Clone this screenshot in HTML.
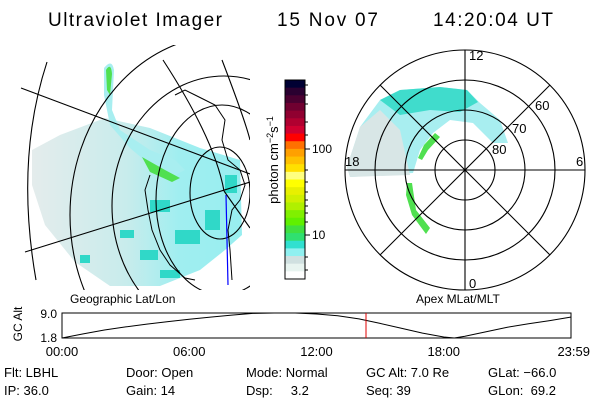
<!DOCTYPE html>
<html><head><meta charset="utf-8"><style>
html,body{margin:0;padding:0;background:#fff;}
svg{display:block;font-family:"Liberation Sans",sans-serif;}
</style></head><body>
<svg width="600" height="400" viewBox="0 0 600 400">
<g font-size="19" fill="#000">
<text x="48" y="26" textLength="174">Ultraviolet Imager</text>
<text x="277" y="26" textLength="101">15 Nov 07</text>
<text x="433" y="26" textLength="120">14:20:04 UT</text>
</g>
<defs>
<clipPath id="lc"><rect x="20" y="45" width="230" height="245"/></clipPath>
<linearGradient id="lg" x1="0" x2="1" y1="0" y2="0"><stop offset="0" stop-color="#e4ecec"/><stop offset="0.45" stop-color="#c8ecec"/><stop offset="0.7" stop-color="#a0eef0"/><stop offset="1" stop-color="#98eef0"/></linearGradient>
<clipPath id="pc"><circle cx="465" cy="170" r="120"/></clipPath>
</defs>
<g clip-path="url(#lc)">
<path d="M32,150 L60,135 L105,118 L150,128 L200,148 L240,160 L242,235 L225,250 L200,270 L160,286 L110,286 L75,262 L45,225 L32,185 Z" fill="url(#lg)"/>
<g fill="#30d8c8">
<rect x="150" y="200" width="20" height="12"/><rect x="175" y="230" width="25" height="14"/><rect x="140" y="250" width="18" height="10"/><rect x="205" y="210" width="15" height="20"/><rect x="120" y="230" width="14" height="8"/><rect x="160" y="270" width="20" height="8"/><rect x="225" y="175" width="12" height="18"/><rect x="80" y="255" width="10" height="8"/>
</g>
<path d="M104,68 Q112,58 114,70 L112,110 L120,130 L150,150 L175,160 L185,170 L175,175 L150,165 L130,148 L110,125 L104,95 Z" fill="#a8eef0"/>
<path d="M106,70 Q111,62 112,74 L110,95 L107,90 Z M142,157 L165,170 L180,178 L172,182 L150,172 Z" fill="#50e050"/>
<g fill="none" stroke="#000" stroke-width="1.1">
<line x1="21" y1="88" x2="250" y2="174"/>
<line x1="25" y1="252" x2="250" y2="182"/>
<line x1="224" y1="191" x2="250" y2="228"/>
<ellipse cx="220" cy="193" rx="30" ry="46"/>
<ellipse cx="222" cy="200" rx="66" ry="95"/>
<ellipse cx="224" cy="206" rx="112" ry="130"/>
<ellipse cx="226" cy="215" rx="156" ry="180"/>
<path d="M47,62 Q15,160 36,280"/>
<path d="M163,60 Q215,140 224,191"/>
<path d="M222,60 Q245,120 250,140"/>
</g>
<path d="M175,95 L185,90 L195,95 L205,100 L215,105 L225,120 L222,140 L228,160 L240,170 L245,185 L240,200 L232,210 L228,230 L230,250 L232,280 M150,175 L145,190 L148,210 L152,230 L160,250 L170,265 L185,278 L195,280" fill="none" stroke="#000" stroke-width="1"/>
<line x1="226" y1="195" x2="228" y2="285" stroke="#0000ff" stroke-width="1.2"/>
</g>
<g id="cb"></g>
<text transform="translate(278,160) rotate(-90)" text-anchor="middle" font-size="13">photon cm<tspan dy="-5" font-size="9">−2</tspan><tspan dy="5">s</tspan><tspan dy="-5" font-size="9">−1</tspan></text>
<text x="312" y="153" font-size="12">100</text>
<text x="312" y="239" font-size="12">10</text>
<g>
<g clip-path="url(#pc)">
<path d="M347,167 L360,127 L380,100 L400,90 L440,87 L467,90 L480,103 L500,120 L508,143 L493,143 L473,123 L450,120 L433,133 L420,150 L413,173 L350,177 Z" fill="#a8eef0"/>
<path d="M347,167 L360,127 L380,110 L400,130 L410,175 L350,177 Z" fill="#d8e6e6"/>
<path d="M380,100 L400,90 L440,87 L467,90 L478,102 L460,112 L430,110 L400,115 Z" fill="#40dccc"/>
<path d="M435,133 L440,137 L428,150 L422,160 L418,158 L424,145 Z" fill="#50e050"/>
<path d="M407,183 L412,183 L416,210 L430,228 L426,234 L412,215 L406,195 Z" fill="#50e050"/>
</g>
<g fill="none" stroke="#000" stroke-width="1.1">
<circle cx="465" cy="170" r="120"/><circle cx="465" cy="170" r="90"/><circle cx="465" cy="170" r="60"/><circle cx="465" cy="170" r="30"/>
<line x1="345" y1="170" x2="585" y2="170"/><line x1="465" y1="50" x2="465" y2="290"/>
<line x1="380" y1="85" x2="550" y2="255"/><line x1="380" y1="255" x2="550" y2="85"/>
</g>
<g font-size="13">
<text x="469" y="60">12</text><text x="345" y="166">18</text><text x="576" y="166">6</text><text x="469" y="288">0</text>
<text x="535" y="110">60</text><text x="512" y="133">70</text><text x="492" y="154">80</text>
</g>
</g>
<text x="70" y="303" font-size="12">Geographic Lat/Lon</text>
<text x="416" y="303" font-size="12">Apex MLat/MLT</text>
<text transform="translate(22,324) rotate(-90)" text-anchor="middle" font-size="12">GC Alt</text>
<text x="57" y="318" text-anchor="end" font-size="12">9.0</text>
<text x="57" y="342" text-anchor="end" font-size="12">1.8</text>
<rect x="62" y="313" width="509" height="25" fill="none" stroke="#000"/>
<g id="ts"></g>
<g font-size="13">
<text x="4" y="377">Flt: LBHL</text><text x="126" y="377">Door: Open</text><text x="246" y="377">Mode: Normal</text><text x="366" y="377">GC Alt: 7.0 Re</text><text x="488" y="377">GLat: −66.0</text>
<text x="4" y="395">IP: 36.0</text><text x="126" y="395">Gain: 14</text><text x="246" y="395">Dsp:&#160;&#160;&#160;&#160;&#160;3.2</text><text x="366" y="395">Seq: 39</text><text x="488" y="395">GLon:&#160;&#160;69.2</text>
</g>
</svg>
<script>
const cbColors=["#000033","#2a0030","#4a0030","#700030","#900030","#b00030","#d00030","#ff0000","#ff7000","#ffa000","#ffc000","#ffe000","#ffff80","#ffff00","#e8f000","#d0f000","#b0f000","#80f000","#60f000","#40e040","#30e070","#30e0d0","#90f0f0","#d0e0e0","#e8f4f0","#ffffff"];
const hours=[0,1,2,3,4,5,6,7,8,9,10,11,12,13,14,15,16,17,18,18.5,19,20,21,22,23,23.98];
const alts=[1.8,3.0,4.1,5.0,5.8,6.5,7.2,7.8,8.4,8.9,9.0,9.0,8.7,8.2,7.3,6.0,4.6,3.2,2.1,1.8,2.3,3.6,4.9,5.9,6.8,7.8];
const xTicks=["00:00","06:00","12:00","18:00","23:59"];
const xTickHours=[0,6,12,18,23.98];
const currentHour=14.334;
const NS="http://www.w3.org/2000/svg";
const cb=document.getElementById('cb');
const cbTop=80,cbBot=279,bw=(cbBot-cbTop)/cbColors.length;
cbColors.forEach((c,i)=>{const r=document.createElementNS(NS,'rect');


r.setAttribute('x',285);r.setAttribute('y',cbTop+i*bw);r.setAttribute('width',20);r.setAttribute('height',bw+0.5);r.setAttribute('fill',c);cb.appendChild(r);});
const fr=document.createElementNS(NS,'rect');


fr.setAttribute('x',285);fr.setAttribute('y',cbTop);fr.setAttribute('width',20);fr.setAttribute('height',cbBot-cbTop);fr.setAttribute('fill','none');fr.setAttribute('stroke','#000');cb.appendChild(fr);
[85,95,104,122,135,149,170,182,192,200,206,213,222,235,257,270].forEach(y=>{const l=document.createElementNS(NS,'line');


l.setAttribute('x1',305);l.setAttribute('x2',(y==149||y==235)?310:308);l.setAttribute('y1',y);l.setAttribute('y2',y);l.setAttribute('stroke','#000');cb.appendChild(l);});
const X=h=>62+h/24*509, Y=a=>338-(a-1.8)/7.2*25;
const ts=document.getElementById('ts');
const p=document.createElementNS(NS,'polyline');


p.setAttribute('points',hours.map((h,i)=>X(h)+','+Y(alts[i])).join(' '));p.setAttribute('fill','none');p.setAttribute('stroke','#000');ts.appendChild(p);
const rl=document.createElementNS(NS,'line');


rl.setAttribute('x1',X(currentHour));rl.setAttribute('x2',X(currentHour));rl.setAttribute('y1',313);rl.setAttribute('y2',338);rl.setAttribute('stroke','#e00000');ts.appendChild(rl);
xTicks.forEach((t,i)=>{const tx=document.createElementNS(NS,'text');


let x=X(xTickHours[i]);tx.setAttribute('x',i==4?590:x);tx.setAttribute('y',356);tx.setAttribute('font-size','13');tx.setAttribute('text-anchor',i==4?'end':'middle');tx.textContent=t;ts.appendChild(tx);});
</script>
</body></html>
